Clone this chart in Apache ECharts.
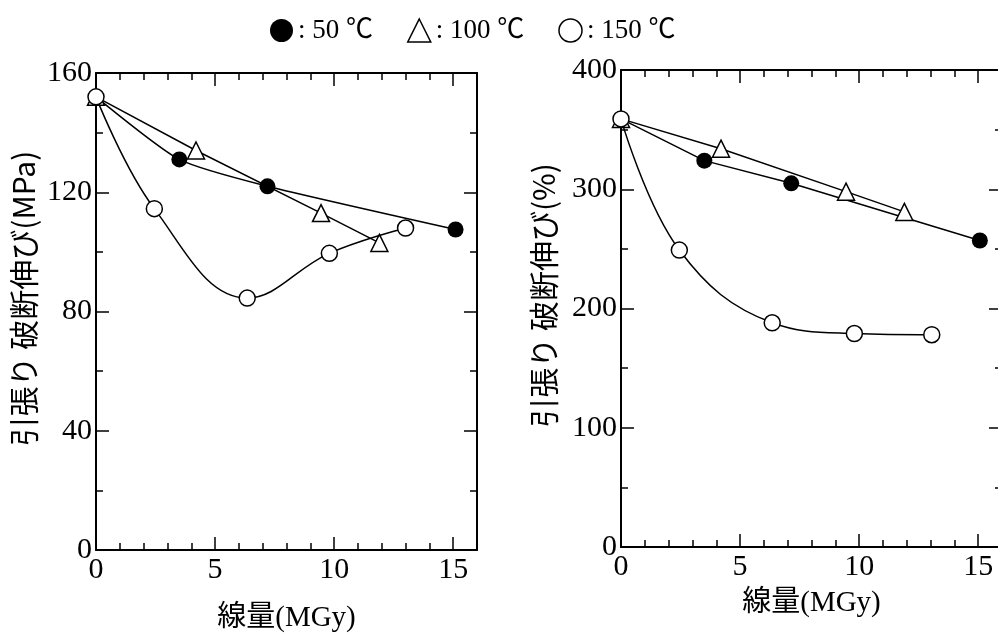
<!DOCTYPE html>
<html>
<head>
<meta charset="utf-8">
<script src="https://cdn.jsdelivr.net/npm/echarts@6/dist/echarts.min.js"></script>
<style>html,body{margin:0;padding:0;background:#fff}#c{width:998px;height:641px}</style>
</head>
<body>
<div id="c"></div>
<script>
// ---- data ----
const seriesNames = ['50 ℃', '100 ℃', '150 ℃'];
// left: tensile strength (MPa)
const doseL50 = [0, 3.5, 7.2, 15.1];
const mpa50 = [152, 131, 122, 107.5];
const doseL100 = [0, 4.2, 9.45, 11.9];
const mpa100 = [152, 134, 113, 103];
const doseL150 = [0, 2.45, 6.35, 9.8, 13.0];
const mpa150 = [152, 114.5, 84.5, 99.5, 108];
// right: elongation at break (%)
const doseR50 = [0, 3.5, 7.15, 15.07];
const el50 = [359, 324, 305, 257];
const doseR100 = [0, 4.2, 9.45, 11.9];
const el100 = [359, 334, 298, 281];
const doseR150 = [0, 2.45, 6.35, 9.8, 13.05];
const el150 = [359, 249, 188, 179, 178];
// axis labels
const xName = '線量(MGy)';
const yNameL = '引張り 破断伸び(MPa)';
const yNameR = '引張り 破断伸び(%)';

const pair = (xs, ys) => xs.map((x, i) => [x, ys[i]]);

const serif = "'Liberation Serif', 'Noto Sans CJK JP', serif";
const cjk = "'Noto Sans CJK JP', sans-serif";
const black = '#000';

const G = [
  {left: 96, top: 73, width: 381, height: 477, outerBoundsMode: 'none', containLabel: false},
  {left: 621, top: 70, width: 381, height: 477, outerBoundsMode: 'none', containLabel: false}
];
const grids = [G[0], G[1], G[0], G[1]];

function xMinor(gi, pos, withLabel, nameGap) {
  const a = {
    type: 'value', gridIndex: gi, position: pos, min: 0, max: 16, interval: 1,
    axisLine: {show: true, onZero: false, lineStyle: {color: black, width: 2}},
    axisTick: {show: true, inside: true, length: 7, lineStyle: {color: black, width: 1.5}},
    splitLine: {show: false},
    axisLabel: {show: withLabel, color: black, fontFamily: serif, fontSize: 30, margin: 5,
      formatter: v => (v % 5 === 0 && v <= 15) ? String(v) : ''}
  };
  if (withLabel) {
    a.name = xName; a.nameLocation = 'middle'; a.nameGap = nameGap;
    a.nameTextStyle = {color: black, fontFamily: serif, fontSize: 29};
  }
  return a;
}
function xMajor(gi, pos) {
  return {
    type: 'value', gridIndex: gi, position: pos, min: 0, max: 16, interval: 5,
    axisLine: {show: false},
    axisTick: {show: true, inside: true, length: 13, lineStyle: {color: black, width: 1.5}},
    splitLine: {show: false}, axisLabel: {show: false}
  };
}
function yAxis(gi, pos, max, interval, withLabel, name, nameGap) {
  const a = {
    type: 'value', gridIndex: gi, position: pos, min: 0, max: max, interval: interval,
    axisLine: {show: true, onZero: false, lineStyle: {color: black, width: 2}},
    axisTick: {show: true, inside: true, length: 13, lineStyle: {color: black, width: 1.5}},
    minorTick: {show: true, splitNumber: 2, length: 7, lineStyle: {color: black, width: 1.5}},
    splitLine: {show: false}, minorSplitLine: {show: false},
    axisLabel: {show: withLabel, color: black, fontFamily: serif, fontSize: 30, margin: 4}
  };
  if (withLabel) {
    a.name = name; a.nameLocation = 'middle'; a.nameGap = nameGap; a.nameRotate = 90;
    a.nameTextStyle = {color: black, fontFamily: cjk, fontSize: 30, padding: [0, 0, 0, 26]};
  }
  return a;
}
function hiddenY(gi) {
  return {type: 'value', gridIndex: gi, min: 0, max: 1, show: false};
}

const openStyle = {color: '#fff', borderColor: black, borderWidth: 1.5};
function mk(name, data, xi, yi, kind, smooth) {
  const s = {
    name: name, type: 'line', xAxisIndex: xi, yAxisIndex: yi, data: data,
    smooth: smooth, symbolSize: 15, showSymbol: true,
    lineStyle: {color: black, width: 1.5}, animation: false
  };
  if (kind === 'filled') { s.symbol = 'circle'; s.symbolSize = 16; s.itemStyle = {color: black}; s.z = 3; }
  if (kind === 'tri') { s.symbol = 'triangle'; s.symbolSize = 17; s.itemStyle = openStyle; s.z = 4; }
  if (kind === 'open') { s.symbol = 'circle'; s.symbolSize = 16; s.itemStyle = openStyle; s.z = 5; }
  return s;
}

const option = {
  backgroundColor: '#fff',
  animation: false,
  legend: {
    left: 265, top: 12, itemWidth: 23, itemHeight: 23, itemGap: 34,
    selectedMode: false,
    textStyle: {color: black, fontFamily: serif, fontSize: 27},
    formatter: ': {name}',
    data: [
      {name: seriesNames[0], icon: 'circle', itemStyle: {color: black, borderWidth: 0}},
      {name: seriesNames[1], icon: 'triangle', itemStyle: {color: '#fff', borderColor: black, borderWidth: 1.5}},
      {name: seriesNames[2], icon: 'circle', itemStyle: {color: '#fff', borderColor: black, borderWidth: 1.5}}
    ]
  },
  grid: grids,
  xAxis: [
    xMinor(0, 'bottom', true, 54), xMinor(0, 'top', false),
    xMinor(1, 'bottom', true, 42), xMinor(1, 'top', false),
    xMajor(2, 'bottom'), xMajor(2, 'top'),
    xMajor(3, 'bottom'), xMajor(3, 'top')
  ],
  yAxis: [
    yAxis(0, 'left', 160, 40, true, yNameL, 57), yAxis(0, 'right', 160, 40, false),
    yAxis(1, 'left', 400, 100, true, yNameR, 62), yAxis(1, 'right', 400, 100, false),
    hiddenY(2), hiddenY(3)
  ],
  series: [
    mk(seriesNames[0], pair(doseL50, mpa50), 0, 0, 'filled', 0.2),
    mk(seriesNames[1], pair(doseL100, mpa100), 0, 0, 'tri', false),
    mk(seriesNames[2], pair(doseL150, mpa150), 0, 0, 'open', 0.4),
    mk(seriesNames[0], pair(doseR50, el50), 2, 2, 'filled', false),
    mk(seriesNames[1], pair(doseR100, el100), 2, 2, 'tri', false),
    mk(seriesNames[2], pair(doseR150, el150), 2, 2, 'open', 0.4)
  ]
};

const chart = echarts.init(document.getElementById('c'), null, {renderer: 'canvas'});
chart.setOption(option);
</script>
</body>
</html>
